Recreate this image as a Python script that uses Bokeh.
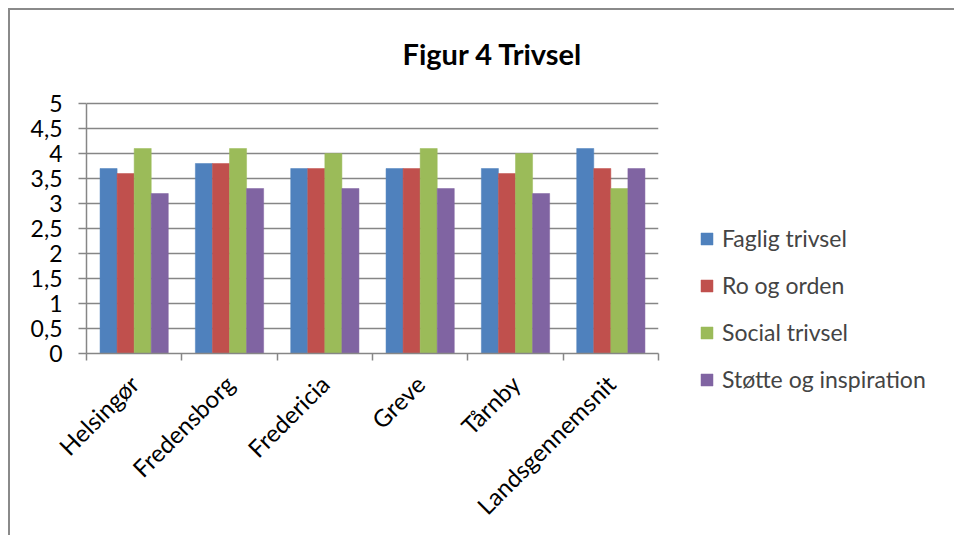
import math
from bokeh.plotting import figure
from bokeh.layouts import row, column
from bokeh.models import Range1d, FixedTicker, Legend, LegendItem, ColumnDataSource
from bokeh.embed import file_html
from bokeh.resources import INLINE

categories = ["Helsingør", "Fredensborg", "Fredericia", "Greve", "Tårnby", "Landsgennemsnit"]
series_names = ["Faglig trivsel", "Ro og orden", "Social trivsel", "Støtte og inspiration"]
faglig_trivsel = [3.7, 3.8, 3.7, 3.7, 3.7, 4.1]
ro_og_orden = [3.6, 3.8, 3.7, 3.7, 3.6, 3.7]
social_trivsel = [4.1, 4.1, 4.0, 4.1, 4.0, 3.3]
stotte_og_inspiration = [3.2, 3.3, 3.3, 3.3, 3.2, 3.7]
y_ticks = [0, 0.5, 1, 1.5, 2, 2.5, 3, 3.5, 4, 4.5, 5]
y_tick_labels = ["0", "0,5", "1", "1,5", "2", "2,5", "3", "3,5", "4", "4,5", "5"]
title_text = "Figur 4 Trivsel"

colors = ["#4F81BD", "#C0504D", "#9BBB59", "#8064A2"]
FONT = "Lato"
GRAY = "#868686"

p = figure(width=660, height=525, output_backend="svg", toolbar_location=None,
           x_range=Range1d(0, len(categories)), y_range=Range1d(0, 5.2),
           min_border_left=76, min_border_right=12, min_border_top=83, min_border_bottom=182)

p.title.text = title_text
p.title.text_font = FONT
p.title.text_font_size = "29px"
p.title.text_font_style = "bold"
p.title.text_color = "black"
p.title.align = "left"
p.title.offset = 316
p.title.standoff = 46

bar_w = 0.179
offsets = [-1.5, -0.5, 0.5, 1.5]
all_series = [faglig_trivsel, ro_og_orden, social_trivsel, stotte_og_inspiration]
sources = []
for name, vals, col, off in zip(series_names, all_series, colors, offsets):
    src = ColumnDataSource(dict(x=[i + 0.5 + off * bar_w for i in range(len(categories))], top=vals))
    sources.append(src)
    p.vbar(x="x", top="top", width=bar_w, bottom=0, source=src,
           fill_color=col, line_color=col, line_width=0.5)

# x axis
xa = p.xaxis[0]
xa.ticker = FixedTicker(ticks=[i + 0.5 for i in range(len(categories))],
                        minor_ticks=list(range(len(categories) + 1)))
xa.major_label_overrides = {i + 0.5: c for i, c in enumerate(categories)}
xa.major_tick_line_color = None
xa.minor_tick_line_color = GRAY
xa.minor_tick_line_width = 1.5
xa.minor_tick_out = 7
xa.minor_tick_in = 0
xa.axis_line_color = GRAY
xa.axis_line_width = 1.5
xa.major_label_orientation = math.pi / 4
xa.major_label_text_font = FONT
xa.major_label_text_font_size = "24px"
xa.major_label_text_color = "black"
xa.major_label_standoff = 19

ya = p.yaxis[0]
ya.ticker = FixedTicker(ticks=y_ticks, minor_ticks=[])
ya.bounds = (0, 5)
ya.major_label_overrides = {t: l for t, l in zip(y_ticks, y_tick_labels)}
ya.major_tick_out = 8
ya.major_tick_in = 0
ya.major_tick_line_color = GRAY
ya.major_tick_line_width = 1.5
ya.axis_line_color = GRAY
ya.axis_line_width = 1.5
ya.major_label_text_font = FONT
ya.major_label_text_font_size = "23px"
ya.major_label_text_color = "black"
ya.major_label_standoff = 16

p.xgrid.visible = False
p.ygrid.ticker = FixedTicker(ticks=y_ticks)
p.ygrid.grid_line_color = GRAY
p.ygrid.grid_line_width = 1.5
p.outline_line_color = None

# legend panel (separate figure so the legend can hang below the x axis level)
p2 = figure(width=284, height=525, output_backend="svg", toolbar_location=None,
            x_range=Range1d(0, 1), y_range=Range1d(0, 1),
            x_axis_location=None, y_axis_location=None,
            min_border_left=0, min_border_right=0, min_border_top=0, min_border_bottom=0)
p2.outline_line_color = None
p2.xgrid.visible = False
p2.ygrid.visible = False
items = []
for name, col, src in zip(series_names, colors, sources):
    r = p2.vbar(x="x", top="top", width=bar_w, source=src,
                fill_color=col, line_color=col, line_width=0.5, visible=False)
    items.append(LegendItem(label=name, renderers=[r]))
legend = Legend(items=items, location=(29, 142), orientation="vertical")
legend.label_text_font = FONT
legend.label_text_font_size = "23px"
legend.glyph_width = 15
legend.glyph_height = 15
legend.spacing = 19
legend.padding = 10
legend.margin = 0
legend.border_line_color = None
legend.background_fill_alpha = 0
legend.inactive_fill_alpha = 0
legend.label_standoff = 8
p2.add_layout(legend, "center")

layout = row(p, column(p2), styles={"margin-left": "8px", "margin-top": "8px",
                                     "border-left": "2px solid #8a8a8a", "border-top": "2px solid #8a8a8a"})

open("out.html", "w").write(file_html(layout, INLINE))
